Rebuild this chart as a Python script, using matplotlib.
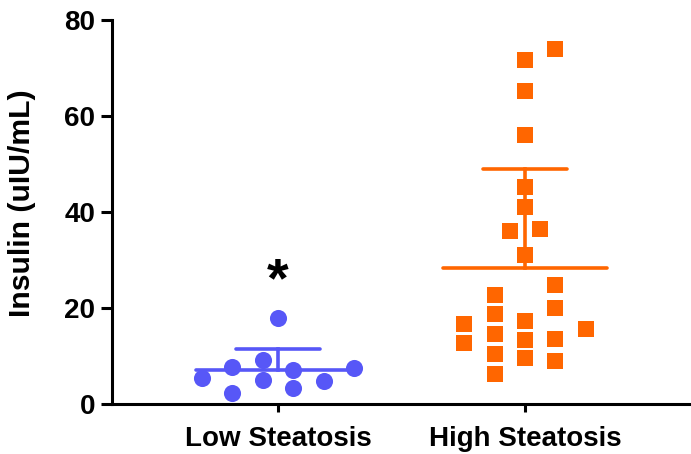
import numpy as np
import matplotlib

matplotlib.use("Agg")
import matplotlib.pyplot as plt

# values (uIU/mL)
groups = ["Low Steatosis", "High Steatosis"]
low_vals = [17.9, 7.8, 9.2, 7.1, 7.6, 5.5, 5.1, 4.8, 2.2, 3.3]
high_vals = [74.0, 71.7, 65.2, 56.0, 45.3, 41.1, 36.1, 36.5, 31.0,
             24.8, 20.1, 13.6, 9.0, 22.7, 18.75, 14.6, 10.4, 6.25,
             17.3, 13.3, 9.6, 16.7, 12.7, 15.6]
# swarm columns (layout only)
low_cols = [0, -1.5, -0.5, 0.5, 2.5, -2.5, -0.5, 1.5, -1.5, 0.5]
high_cols = [1, 0, 0, 0, 0, 0, -0.5, 0.5, 0,
             1, 1, 1, 1, -1, -1, -1, -1, -1,
             0, 0, 0, -2, -2, 2]

BLUE = "#5757F7"
ORANGE = "#FF6600"

plt.rcParams["font.family"] = ["Liberation Sans", "DejaVu Sans"]
plt.rcParams["font.weight"] = "bold"

fig = plt.figure(figsize=(6.91, 4.54), dpi=100)
ax = fig.add_axes([0.162, 0.110, 0.838, 0.846])

step = 0.123
for i, (vals, cols, color, marker, ms) in enumerate([
    (low_vals, low_cols, BLUE, "o", 12.3),
    (high_vals, high_cols, ORANGE, "s", 11.5),
]):
    vals = np.array(vals)
    xs = i + np.array(cols) * step
    ax.plot(xs, vals, linestyle="none", marker=marker, markersize=ms,
            color=color, markeredgewidth=0, zorder=3)
    m = vals.mean()
    sd = vals.std(ddof=1)
    ax.plot([i - 0.33, i + 0.33], [m, m], color=color, lw=2.6, zorder=4,
            solid_capstyle="round")
    ax.plot([i, i], [m, m + sd], color=color, lw=2.6, zorder=4)
    ax.plot([i - 0.17, i + 0.17], [m + sd, m + sd], color=color, lw=2.6,
            zorder=4, solid_capstyle="round")

ax.text(0, 25.3, "*", ha="center", va="center", fontsize=40, fontweight="bold")

ax.set_xlim(-0.672, 1.672)
ax.set_ylim(0, 80)
ax.set_yticks([0, 20, 40, 60, 80])
ax.set_xticks([0, 1])
ax.set_xticklabels(groups)
ax.set_ylabel("Insulin (uIU/mL)", fontsize=21.7, fontweight="bold")
ax.yaxis.set_label_coords(-0.131, 0.523)
ax.tick_params(axis="y", labelsize=20, width=2.2, length=8, pad=4)
ax.tick_params(axis="x", labelsize=20, width=2.2, length=6, pad=10)
for lab in ax.get_xticklabels() + ax.get_yticklabels():
    lab.set_fontweight("bold")

for side in ["top", "right"]:
    ax.spines[side].set_visible(False)
for side in ["left", "bottom"]:
    ax.spines[side].set_linewidth(2.2)
ax.spines["left"].set_capstyle("projecting")
ax.patch.set_alpha(0)
for art in ax.spines.values():
    art.set_zorder(5)

fig.savefig("out.png", dpi=100)
